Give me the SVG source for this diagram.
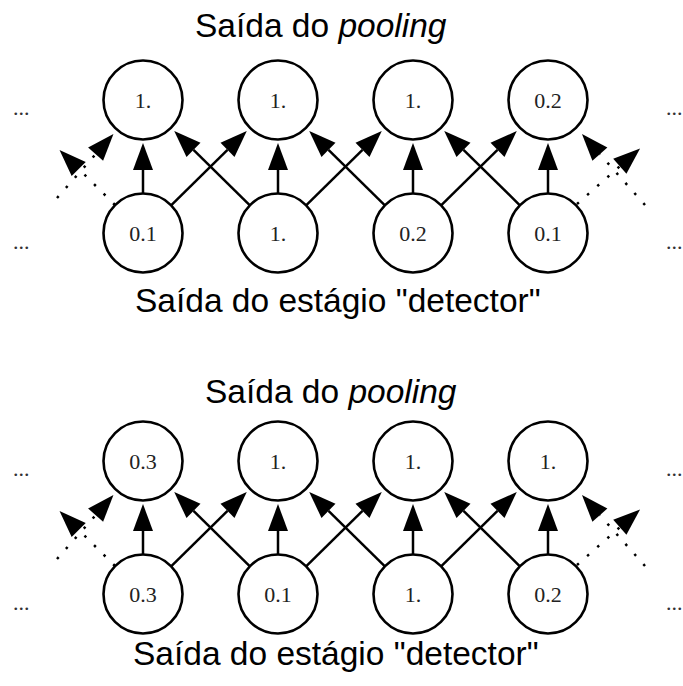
<svg xmlns="http://www.w3.org/2000/svg" width="683" height="686" viewBox="0 0 683 686">
  <style>
    .node circle { fill: #ffffff; stroke: #000000; stroke-width: 2.6; }
    .val { font-family: "Liberation Serif", "Times New Roman", serif; font-size: 22px; fill: #222222; text-anchor: middle; }
    .dots { font-family: "Liberation Serif", "Times New Roman", serif; font-size: 22px; fill: #333333; }
    .label { font-family: "Liberation Sans", Arial, sans-serif; font-size: 33.5px; fill: #000000; }
    .edge { stroke: #000000; stroke-width: 2.5; fill: none; marker-end: url(#head); }
    .edge.dotted { stroke-dasharray: 2.5 11; }
  </style>
  <defs>
    <marker id="head" viewBox="0 -10 27 20" refX="0" refY="0" markerWidth="27" markerHeight="20" markerUnits="userSpaceOnUse" orient="auto" overflow="visible">
      <path d="M0,-10 L27,0 L0,10 Z" fill="#000000"/>
    </marker>
  </defs>

  <rect width="683" height="686" fill="#ffffff"/>

  <!-- Upper diagram -->
  <g id="upper">
    <text class="label" x="195" y="37">Saída do <tspan font-style="italic">pooling</tspan></text>
    <text class="label" x="135" y="312">Saída do estágio "detector"</text>

    <text class="dots" x="13" y="115">...</text>
    <text class="dots" x="13" y="249">...</text>
    <text class="dots" x="666" y="115">...</text>
    <text class="dots" x="666" y="249">...</text>

    <g id="upper-connectors">
      <line class="edge" x1="143" y1="193.5" x2="143" y2="170"/>
      <line class="edge" x1="278" y1="193.5" x2="278" y2="170"/>
      <line class="edge" x1="413" y1="193.5" x2="413" y2="170"/>
      <line class="edge" x1="548" y1="193.5" x2="548" y2="170"/>
      <line class="edge" x1="171.1" y1="205.3" x2="227.5" y2="149.9"/>
      <line class="edge" x1="306.1" y1="205.3" x2="362.5" y2="149.9"/>
      <line class="edge" x1="441.1" y1="205.3" x2="497.5" y2="149.9"/>
      <line class="edge" x1="249.9" y1="205.3" x2="193.5" y2="149.9"/>
      <line class="edge" x1="384.9" y1="205.3" x2="328.5" y2="149.9"/>
      <line class="edge" x1="519.9" y1="205.3" x2="463.5" y2="149.9"/>
      <line class="edge dotted" x1="57" y1="198" x2="95.6" y2="154.2"/>
      <line class="edge dotted" x1="115" y1="205" x2="78.7" y2="169"/>
      <line class="edge dotted" x1="577" y1="204" x2="619.8" y2="166.3"/>
      <line class="edge dotted" x1="645" y1="205" x2="599.9" y2="154.2"/>
    </g>

    <g id="u-pool-1" class="node"><circle cx="143" cy="100" r="39.5"/><text class="val" x="143" y="107.5">1.</text></g>
    <g id="u-pool-2" class="node"><circle cx="278" cy="100" r="39.5"/><text class="val" x="278" y="107.5">1.</text></g>
    <g id="u-pool-3" class="node"><circle cx="413" cy="100" r="39.5"/><text class="val" x="413" y="107.5">1.</text></g>
    <g id="u-pool-4" class="node"><circle cx="548" cy="100" r="39.5"/><text class="val" x="548" y="107.5">0.2</text></g>
    <g id="u-det-1" class="node"><circle cx="143" cy="233" r="39.5"/><text class="val" x="143" y="240.5">0.1</text></g>
    <g id="u-det-2" class="node"><circle cx="278" cy="233" r="39.5"/><text class="val" x="278" y="240.5">1.</text></g>
    <g id="u-det-3" class="node"><circle cx="413" cy="233" r="39.5"/><text class="val" x="413" y="240.5">0.2</text></g>
    <g id="u-det-4" class="node"><circle cx="548" cy="233" r="39.5"/><text class="val" x="548" y="240.5">0.1</text></g>
  </g>

  <!-- Lower diagram -->
  <g id="lower">
    <text class="label" x="205" y="403">Saída do <tspan font-style="italic">pooling</tspan></text>
    <text class="label" x="133" y="665">Saída do estágio "detector"</text>

    <g transform="translate(0,361)">
      <text class="dots" x="13" y="115">...</text>
      <text class="dots" x="13" y="249">...</text>
      <text class="dots" x="666" y="115">...</text>
      <text class="dots" x="666" y="249">...</text>

      <g id="lower-connectors">
        <line class="edge" x1="143" y1="193.5" x2="143" y2="170"/>
        <line class="edge" x1="278" y1="193.5" x2="278" y2="170"/>
        <line class="edge" x1="413" y1="193.5" x2="413" y2="170"/>
        <line class="edge" x1="548" y1="193.5" x2="548" y2="170"/>
        <line class="edge" x1="171.1" y1="205.3" x2="227.5" y2="149.9"/>
        <line class="edge" x1="306.1" y1="205.3" x2="362.5" y2="149.9"/>
        <line class="edge" x1="441.1" y1="205.3" x2="497.5" y2="149.9"/>
        <line class="edge" x1="249.9" y1="205.3" x2="193.5" y2="149.9"/>
        <line class="edge" x1="384.9" y1="205.3" x2="328.5" y2="149.9"/>
        <line class="edge" x1="519.9" y1="205.3" x2="463.5" y2="149.9"/>
        <line class="edge dotted" x1="57" y1="198" x2="95.6" y2="154.2"/>
        <line class="edge dotted" x1="115" y1="205" x2="78.7" y2="169"/>
        <line class="edge dotted" x1="577" y1="204" x2="619.8" y2="166.3"/>
        <line class="edge dotted" x1="645" y1="205" x2="599.9" y2="154.2"/>
      </g>

      <g id="l-pool-1" class="node"><circle cx="143" cy="100" r="39.5"/><text class="val" x="143" y="107.5">0.3</text></g>
      <g id="l-pool-2" class="node"><circle cx="278" cy="100" r="39.5"/><text class="val" x="278" y="107.5">1.</text></g>
      <g id="l-pool-3" class="node"><circle cx="413" cy="100" r="39.5"/><text class="val" x="413" y="107.5">1.</text></g>
      <g id="l-pool-4" class="node"><circle cx="548" cy="100" r="39.5"/><text class="val" x="548" y="107.5">1.</text></g>
      <g id="l-det-1" class="node"><circle cx="143" cy="233" r="39.5"/><text class="val" x="143" y="240.5">0.3</text></g>
      <g id="l-det-2" class="node"><circle cx="278" cy="233" r="39.5"/><text class="val" x="278" y="240.5">0.1</text></g>
      <g id="l-det-3" class="node"><circle cx="413" cy="233" r="39.5"/><text class="val" x="413" y="240.5">1.</text></g>
      <g id="l-det-4" class="node"><circle cx="548" cy="233" r="39.5"/><text class="val" x="548" y="240.5">0.2</text></g>
    </g>
  </g>
</svg>
